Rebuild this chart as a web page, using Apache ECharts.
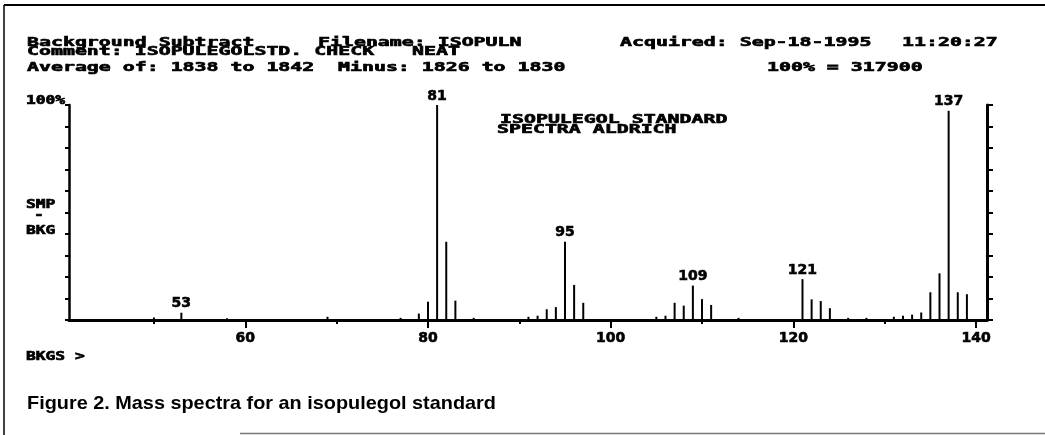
<!DOCTYPE html>
<html>
<head>
<meta charset="utf-8">
<script src="https://cdn.jsdelivr.net/npm/echarts@6/dist/echarts.min.js"></script>
<style>
html,body{margin:0;padding:0;background:#fff;}
#chart{width:1045px;height:435px;}
</style>
</head>
<body>
<div id="chart"></div>
<script>
// m/z values and relative intensities (% of base peak)
const masses = [50, 53, 58, 69, 77, 79, 80, 81, 82, 83, 85, 91, 92, 93, 94, 95, 96, 97, 105, 106, 107, 108, 109, 110, 111, 114, 121, 122, 123, 124, 126, 128, 131, 132, 133, 134, 135, 136, 137, 138, 139];
const intensities = [1.2, 3.4, 0.8, 1.5, 1, 3, 8.5, 100, 36.4, 9, 1, 1.5, 2, 5, 6, 36.4, 16.3, 8, 1.5, 2, 8, 6.7, 16, 9.7, 7, 1, 19, 9.6, 8.8, 5.5, 1, 1, 1.5, 2, 2.5, 3.5, 12.9, 21.7, 97.3, 12.9, 12];
const labeledMasses = [53, 81, 95, 109, 121, 137];
const majorTicks = [60, 80, 100, 120, 140];
const minorTicks = [50, 70, 90, 110, 130];

const header = [
  {t: 'Background Subtract', x: 27, y: 36},
  {t: 'Filename: ISOPULN', x: 318, y: 36},
  {t: 'Acquired: Sep-18-1995', x: 620, y: 36},
  {t: '11:20:27', x: 902, y: 36},
  {t: 'Comment: ISOPULEGOLSTD. CHECK', x: 27, y: 45},
  {t: 'NEAT', x: 412, y: 45},
  {t: 'Average of: 1838 to 1842', x: 27, y: 61},
  {t: 'Minus: 1826 to 1830', x: 338, y: 61},
  {t: '100% = 317900', x: 767, y: 61},
  {t: 'ISOPULEGOL STANDARD', x: 500, y: 113},
  {t: 'SPECTRA ALDRICH', x: 497, y: 123}
];
const sideLabels = [
  {t: '100%', x: 26, y: 94},
  {t: 'SMP', x: 26, y: 198},
  {t: '-', x: 34, y: 209},
  {t: 'BKG', x: 26, y: 224},
  {t: 'BKGS >', x: 26, y: 350}
];
const caption = 'Figure 2. Mass spectra for an isopulegol standard';

const mono = '"DejaVu Sans Mono", monospace';
const chart = echarts.init(document.getElementById('chart'), null, {renderer: 'canvas'});

const graphics = [];
header.forEach(h => graphics.push({
  type: 'text', x: h.x, y: h.y, scaleX: 1.42, scaleY: 0.9,
  style: {text: h.t, font: 'bold 14px ' + mono, fill: '#000', stroke: '#000', lineWidth: 0.7, textVerticalAlign: 'top'}
}));
sideLabels.forEach(h => graphics.push({
  type: 'text', x: h.x, y: h.y, scaleX: 1.25,
  style: {text: h.t, font: 'bold 13px ' + mono, fill: '#000', stroke: '#000', lineWidth: 0.7, textVerticalAlign: 'top'}
}));
graphics.push({
  type: 'text', x: 27, y: 394, scaleX: 1.045,
  style: {text: caption, font: 'bold 19px "Liberation Sans", Arial, sans-serif', fill: '#000', textVerticalAlign: 'top'}
});
// figure frame
graphics.push({type: 'line', shape: {x1: 4, y1: 5, x2: 1045, y2: 5}, style: {stroke: '#000', lineWidth: 2}});
graphics.push({type: 'line', shape: {x1: 4, y1: 5, x2: 4, y2: 435}, style: {stroke: '#000', lineWidth: 1.5}});
graphics.push({type: 'line', shape: {x1: 240, y1: 433.5, x2: 1045, y2: 433.5}, style: {stroke: '#777', lineWidth: 1.5}});

const data = masses.map((m, i) => ({
  value: [m, intensities[i]],
  label: {show: labeledMasses.indexOf(m) >= 0}
}));

const numFont = {color: '#000', fontFamily: '"DejaVu Sans", sans-serif', fontWeight: 'bold', fontSize: 14,
  textBorderColor: '#000', textBorderWidth: 0.6};

chart.setOption({
  animation: false,
  backgroundColor: '#fff',
  grid: {left: 69, right: 58, top: 105, bottom: 115},
  xAxis: [{
    type: 'value', min: 40.7, max: 141.2, position: 'bottom',
    axisLine: {show: true, onZero: false, lineStyle: {color: '#000', width: 3}},
    axisTick: {show: true, customValues: majorTicks, length: 8, lineStyle: {color: '#000', width: 2}},
    axisLabel: Object.assign({show: true, customValues: majorTicks, margin: 11}, numFont),
    splitLine: {show: false}
  }, {
    type: 'value', min: 40.7, max: 141.2, position: 'bottom',
    axisLine: {show: false},
    axisTick: {show: true, customValues: minorTicks, length: 4, lineStyle: {color: '#000', width: 2}},
    axisLabel: {show: false},
    splitLine: {show: false}
  }],
  yAxis: [{
    type: 'value', min: 0, max: 100, interval: 10, position: 'left',
    axisLine: {show: true, lineStyle: {color: '#000', width: 2.5}},
    axisTick: {show: true, length: 4, lineStyle: {color: '#000', width: 2}},
    axisLabel: {show: false}, splitLine: {show: false}
  }, {
    type: 'value', min: 0, max: 100, interval: 10, position: 'right',
    axisLine: {show: true, lineStyle: {color: '#000', width: 3}},
    axisTick: {show: true, length: 6, lineStyle: {color: '#000', width: 2}},
    axisLabel: {show: false}, splitLine: {show: false}
  }],
  series: [{
    type: 'bar', xAxisIndex: 0, yAxisIndex: 0,
    barWidth: 2,
    itemStyle: {color: '#000'},
    label: Object.assign({show: false, position: 'top', distance: 2,
      formatter: p => String(p.value[0])}, numFont),
    data: data
  }],
  graphic: graphics
});
</script>
</body>
</html>
